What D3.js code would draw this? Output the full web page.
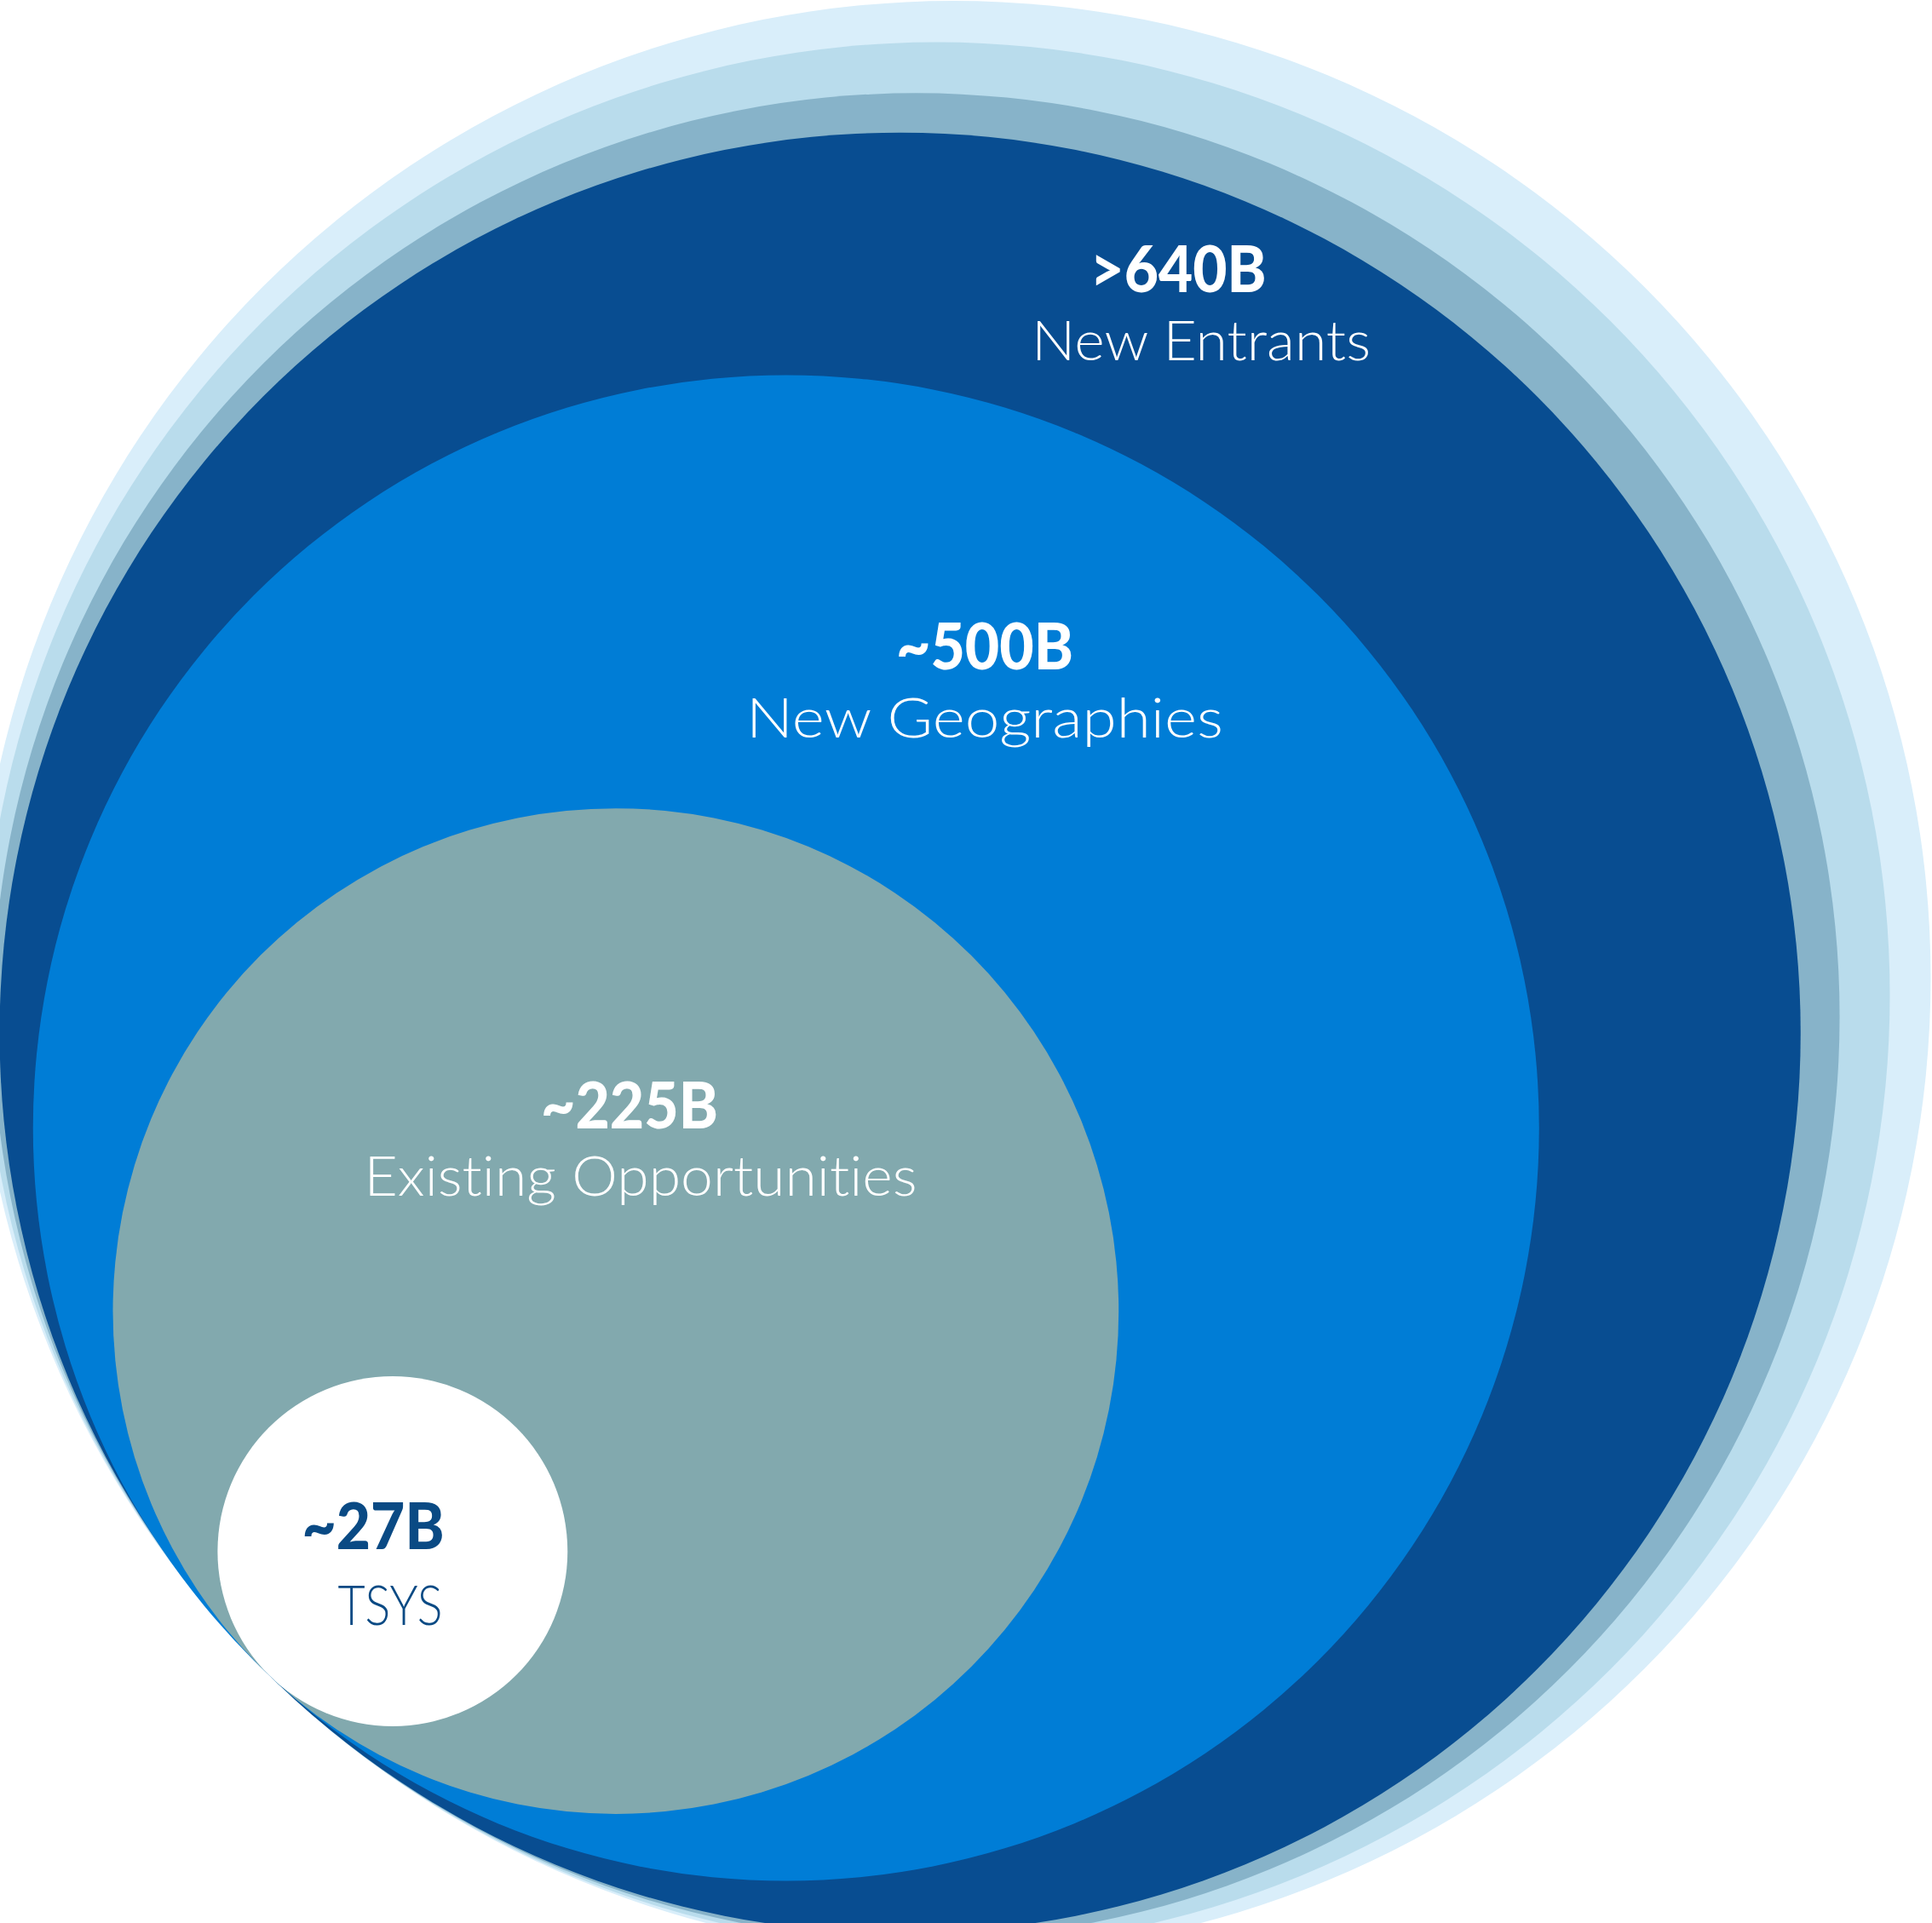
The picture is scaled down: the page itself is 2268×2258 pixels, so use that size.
<!DOCTYPE html>
<html>
<head>
<meta charset="utf-8">
<script src="https://cdn.jsdelivr.net/npm/d3@7"></script>
<style>
  body { margin: 0; background: #fff; }
  svg { display: block; }
  text { font-variant-ligatures: none; font-feature-settings: "liga" 0, "clig" 0; }
</style>
</head>
<body>
<div id="chart"></div>
<script>
const width = 2268, height = 2258;

// market segments, smallest first ($B)
const segments = ["TSYS", "Existing Opportunities", "New Geographies", "New Entrants"];
const amounts = ["~27B", "~225B", "~500B", ">640B"];
// circle areas as drawn in the picture ($B)
const drawnSize = [27, 223, 500, 715];
// the three pale rings behind the chart (no labels)
const haloSize = [752, 801, 842];

const fills = ["#ffffff", "#82a9ae", "#007dd6", "#084d91"];
const haloFills = ["#87b3c9", "#b9dcec", "#d9eefa"];
const textFills = ["#0a4a84", "#ffffff", "#ffffff", "#ffffff"];

// all circles touch in one point at the bottom left
const tangent = [321, 1972];
const innerAngle = 132.9, outerAngle = 134.1;

// where each pair of labels sits (x = centre, y = baseline) and how wide it runs
const labelLayout = [
  { nx: 438, ny: 1819, nw: 167, sx: 458, sy: 1908, sw: 123 },
  { nx: 739, ny: 1325, nw: 208, sx: 752, sy: 1404, sw: 649 },
  { nx: 1156, ny: 786, nw: 208, sx: 1156, sy: 866, sw: 560 },
  { nx: 1383, ny: 343, nw: 207, sx: 1410, sy: 423, sw: 398 }
];

const rScale = d3.scaleSqrt().domain([0, 500]).range([0, 884]);

const rings = [
  ...haloSize.map((v, i) => ({ size: v, fill: haloFills[i], angle: outerAngle })),
  ...drawnSize.map((v, i) => ({ size: v, fill: fills[i], angle: i === 3 ? outerAngle : innerAngle }))
].sort((a, b) => b.size - a.size);

rings.forEach(d => {
  d.r = rScale(d.size);
  const a = d.angle * Math.PI / 180;
  d.cx = tangent[0] - d.r * Math.cos(a);
  d.cy = tangent[1] - d.r * Math.sin(a);
});

const svg = d3.select("#chart").append("svg")
  .attr("width", width)
  .attr("height", height)
  .attr("viewBox", [0, 0, width, height]);

svg.selectAll(".ring")
  .data(rings)
  .join("circle")
    .attr("class", "ring")
    .attr("cx", d => d.cx)
    .attr("cy", d => d.cy)
    .attr("r", d => d.r)
    .attr("fill", d => d.fill);

const labels = svg.selectAll(".label")
  .data(segments.map((s, i) => ({ name: s, amount: amounts[i], color: textFills[i], pos: labelLayout[i] })))
  .join("g")
    .attr("class", "label");

labels.append("text")
  .attr("x", d => d.pos.nx)
  .attr("y", d => d.pos.ny)
  .attr("text-anchor", "middle")
  .attr("textLength", d => d.pos.nw)
  .attr("lengthAdjust", "spacingAndGlyphs")
  .attr("fill", d => d.color)
  .style("font-family", "Lato, 'Liberation Sans', sans-serif")
  .style("font-weight", 900)
  .style("font-size", "76px")
  .text(d => d.amount);

labels.append("text")
  .attr("x", d => d.pos.sx)
  .attr("y", d => d.pos.sy)
  .attr("text-anchor", "middle")
  .attr("textLength", d => d.pos.sw)
  .attr("lengthAdjust", "spacingAndGlyphs")
  .attr("fill", d => d.color)
  .style("font-family", "Lato, 'Open Sans', sans-serif")
  .style("font-weight", 300)
  .style("font-size", "66px")
  .text(d => d.name);
</script>
</body>
</html>
